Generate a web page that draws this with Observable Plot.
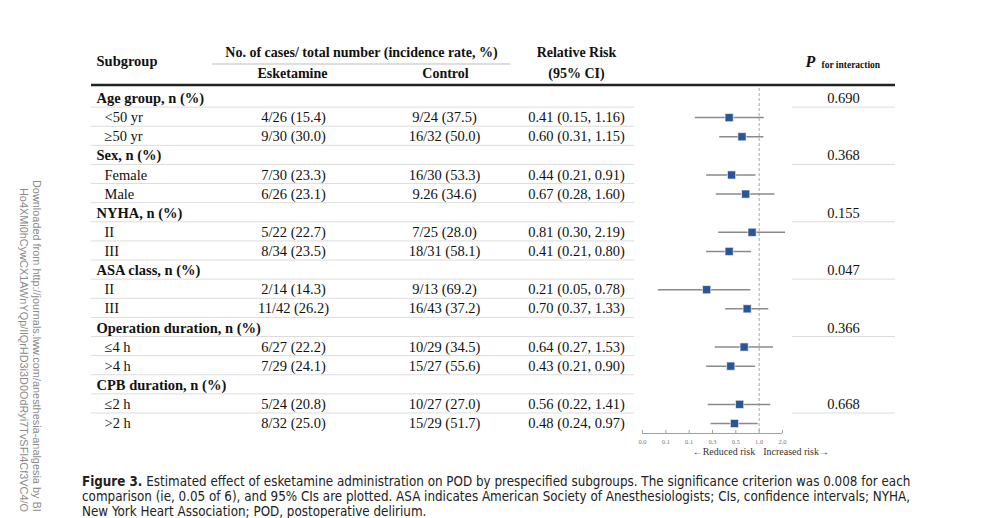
<!DOCTYPE html>
<html><head><meta charset="utf-8">
<script src="https://cdn.jsdelivr.net/npm/d3@7"></script>
<script src="https://cdn.jsdelivr.net/npm/@observablehq/plot@0.6"></script>
<style>
body{margin:0;background:#fff;}
#wrap{position:relative;width:991px;height:518px;overflow:hidden;background:#fff;}
#chart{position:absolute;left:0;top:0;}
.wm{position:absolute;font-family:"Liberation Sans",Arial,sans-serif;font-size:10.9px;color:#8a8a8a;white-space:nowrap;transform-origin:0 0;transform:rotate(90deg);}
#caption{position:absolute;left:82px;top:474px;font-family:"Liberation Sans Narrow","DejaVu Sans Condensed",sans-serif;font-stretch:condensed;font-size:13.3px;line-height:15px;color:#222;white-space:nowrap;}
</style></head>
<body><div id="wrap"><div id="chart"></div>
<div class="wm" style="left:43px;top:180px">Downloaded from http://journals.lww.com/anesthesia-analgesia by BI</div>
<div class="wm" style="left:30px;top:188px">Ho4XMi0hCywCX1AWnYQp/IlQrHD3i3D0OdRyi7TvSFI4Cf3VC4/O</div>
<div id="caption"><b>Figure 3.</b> Estimated effect of esketamine administration on POD by prespecified subgroups. The significance criterion was 0.008 for each<br>comparison (ie, 0.05 of 6), and 95% CIs are plotted. ASA indicates American Society of Anesthesiologists; CIs, confidence intervals; NYHA,<br>New York Heart Association; POD, postoperative delirium.</div>
</div>
<script>
// ---- data ----
const labels = ["Age group, n (%)", "<50 yr", "≥50 yr", "Sex, n (%)", "Female", "Male", "NYHA, n (%)", "II", "III", "ASA class, n (%)", "II", "III", "Operation duration, n (%)", "≤4 h", ">4 h", "CPB duration, n (%)", "≤2 h", ">2 h"];
const isGroup = [true, false, false, true, false, false, true, false, false, true, false, false, true, false, false, true, false, false];
const esketamine = ["", "4/26 (15.4)", "9/30 (30.0)", "", "7/30 (23.3)", "6/26 (23.1)", "", "5/22 (22.7)", "8/34 (23.5)", "", "2/14 (14.3)", "11/42 (26.2)", "", "6/27 (22.2)", "7/29 (24.1)", "", "5/24 (20.8)", "8/32 (25.0)"];
const control = ["", "9/24 (37.5)", "16/32 (50.0)", "", "16/30 (53.3)", "9.26 (34.6)", "", "7/25 (28.0)", "18/31 (58.1)", "", "9/13 (69.2)", "16/43 (37.2)", "", "10/29 (34.5)", "15/27 (55.6)", "", "10/27 (27.0)", "15/29 (51.7)"];
const rrText = ["", "0.41 (0.15, 1.16)", "0.60 (0.31, 1.15)", "", "0.44 (0.21, 0.91)", "0.67 (0.28, 1.60)", "", "0.81 (0.30, 2.19)", "0.41 (0.21, 0.80)", "", "0.21 (0.05, 0.78)", "0.70 (0.37, 1.33)", "", "0.64 (0.27, 1.53)", "0.43 (0.21, 0.90)", "", "0.56 (0.22, 1.41)", "0.48 (0.24, 0.97)"];
const rr = [null, 0.41, 0.60, null, 0.44, 0.67, null, 0.81, 0.41, null, 0.21, 0.70, null, 0.64, 0.43, null, 0.56, 0.48];
const lo = [null, 0.15, 0.31, null, 0.21, 0.28, null, 0.30, 0.21, null, 0.05, 0.37, null, 0.27, 0.21, null, 0.22, 0.24];
const hi = [null, 1.16, 1.15, null, 0.91, 1.60, null, 2.19, 0.80, null, 0.78, 1.33, null, 1.53, 0.90, null, 1.41, 0.97];
const pInteraction = ["0.690", "", "", "0.368", "", "", "0.155", "", "", "0.047", "", "", "0.366", "", "", "", "0.668", ""];
const tickValues = [0.03125, 0.0625, 0.125, 0.25, 0.5, 1, 2];
const tickLabels = ["0.0", "0.1", "0.1", "0.3", "0.5", "1.0", "2.0"];

// ---- build ----
const rows = labels.map((l, i) => ({i, label: l, group: isGroup[i], esk: esketamine[i], ctl: control[i], rrt: rrText[i], rr: rr[i], lo: lo[i], hi: hi[i], p: pInteraction[i]}));
const forest = rows.filter(d => d.rr != null);
const pRows = rows.filter(d => d.p !== "");
const sepRows = rows.filter(d => d.i < rows.length - 1);
const R = px => (px - 98) / 19.118; // layout helper: pixel -> row units
const serif = "Liberation Serif, Times New Roman, serif";
const T = (txt, opts) => Plot.text([txt], {text: d => d, frameAnchor: "left", ...opts});

const chart = Plot.plot({
  width: 991, height: 470, margin: 0,
  x: {type: "log", domain: [0.03125, 2], range: [642, 782], axis: null},
  y: {domain: [0, 17], range: [98, 423], axis: null},
  style: {fontFamily: serif, background: "#fff", color: "#111"},
  marks: [
    // separators
    Plot.ruleY(sepRows, {y: d => d.i + 0.45, stroke: "#dcdcdc", strokeWidth: 1, insetLeft: 91, insetRight: 357}),
    Plot.ruleY(pRows, {y: d => d.i + 0.45, stroke: "#dcdcdc", strokeWidth: 1, insetLeft: 792, insetRight: 96}),
    Plot.ruleY([R(84.5)], {stroke: "#222", strokeWidth: 2.5, insetLeft: 91, insetRight: 96}),
    Plot.ruleY([R(63.5)], {stroke: "#bdbdbd", strokeWidth: 1, insetLeft: 212, insetRight: 481}),
    // headers
    T("Subgroup", {dx: 96, y: R(61), fontWeight: "bold", fontSize: 14.5, textAnchor: "start"}),
    T("No. of cases/ total number (incidence rate, %)", {dx: 361, y: R(52), fontWeight: "bold", fontSize: 14, textAnchor: "middle"}),
    T("Relative Risk", {dx: 576, y: R(52), fontWeight: "bold", fontSize: 14, textAnchor: "middle"}),
    T("Esketamine", {dx: 292, y: R(73), fontWeight: "bold", fontSize: 14, textAnchor: "middle"}),
    T("Control", {dx: 445, y: R(73), fontWeight: "bold", fontSize: 14, textAnchor: "middle"}),
    T("(95% CI)", {dx: 576, y: R(73), fontWeight: "bold", fontSize: 14, textAnchor: "middle"}),
    T("P", {dx: 810, y: R(61), fontWeight: "bold", fontStyle: "italic", fontSize: 16, textAnchor: "middle"}),
    T("for interaction", {dx: 821, y: R(64.5), fontWeight: "bold", fontSize: 9.5, textAnchor: "start"}),
    // row labels and columns
    Plot.text(rows.filter(d => d.group), {text: "label", frameAnchor: "left", dx: 96, y: "i", fontWeight: "bold", fontSize: 14.5, textAnchor: "start"}),
    Plot.text(rows.filter(d => !d.group), {text: "label", frameAnchor: "left", dx: 104, y: "i", fontSize: 14.5, textAnchor: "start"}),
    Plot.text(rows, {text: "esk", frameAnchor: "left", dx: 293, y: "i", fontSize: 14.5, textAnchor: "middle"}),
    Plot.text(rows, {text: "ctl", frameAnchor: "left", dx: 444, y: "i", fontSize: 14.5, textAnchor: "middle"}),
    Plot.text(rows, {text: "rrt", frameAnchor: "left", dx: 576, y: "i", fontSize: 14.5, textAnchor: "middle"}),
    Plot.text(pRows, {text: "p", frameAnchor: "left", dx: 843, y: "i", fontSize: 14.5, textAnchor: "middle"}),
    // forest
    Plot.ruleX([1], {y1: R(88), y2: R(433), stroke: "#a8a8a8", strokeWidth: 1, strokeDasharray: "3,2"}),
    Plot.ruleY(forest, {x1: "lo", x2: "hi", y: "i", stroke: "#8a8a8a", strokeWidth: 1.5}),
    Plot.dot(forest, {x: "rr", y: "i", symbol: "square", r: 4.6, fill: "#2a5596", stroke: "#fff", strokeWidth: 0.6}),
    // axis
    Plot.ruleY([R(433)], {x1: tickValues[0], x2: tickValues[tickValues.length - 1], stroke: "#a0a0a0", strokeWidth: 1}),
    Plot.ruleX(tickValues, {y1: R(430), y2: R(433), stroke: "#a0a0a0", strokeWidth: 1}),
    Plot.text(tickValues, {x: d => d, y: R(441), text: (d, i) => tickLabels[i], fontSize: 6.5, fill: "#777"}),
    Plot.text(["←Reduced risk"], {x: 1, y: R(451), text: d => d, textAnchor: "end", dx: -4, fontSize: 10, fill: "#333"}),
    Plot.text(["Increased risk→"], {x: 1, y: R(451), text: d => d, textAnchor: "start", dx: 4, fontSize: 10, fill: "#333"})
  ]
});
document.getElementById("chart").appendChild(chart);
</script>
</body></html>
